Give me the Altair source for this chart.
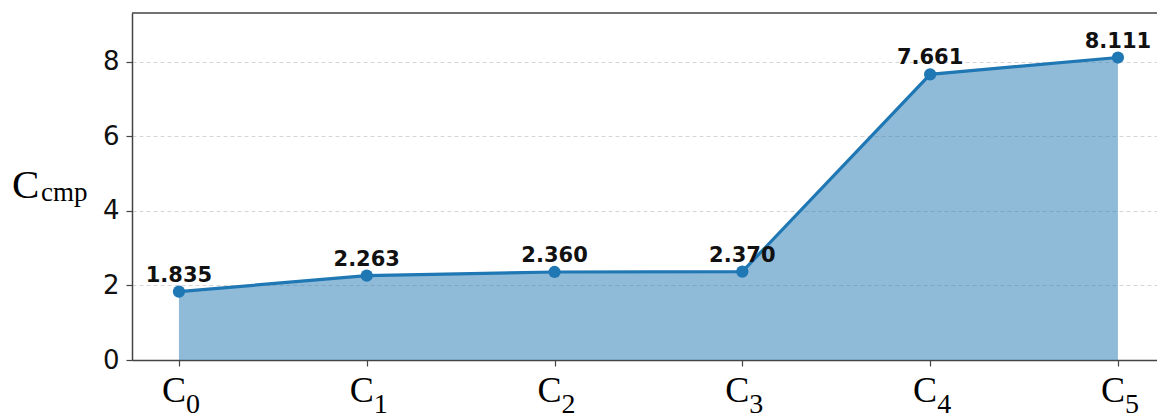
import altair as alt
import pandas as pd

subs = ["0", "1", "2", "3", "4", "5"]
values = [1.835, 2.263, 2.360, 2.370, 7.661, 8.111]
value_labels = ["1.835", "2.263", "2.360", "2.370", "7.661", "8.111"]
y_ticks = [0, 2, 4, 6, 8]

df = pd.DataFrame({
    "idx": list(range(len(subs))),
    "sub": subs,
    "value": values,
    "label": value_labels,
})

W, H = 1025, 347
BLUE = "#1f77b4"

xscale = alt.Scale(domain=[-0.25, 5.208], nice=False, zero=False)
yscale = alt.Scale(domain=[0, 9.305], nice=False, zero=True)

x_enc = alt.X("idx:Q", scale=xscale, axis=alt.Axis(
    values=list(range(6)), labels=False, ticks=True, tickSize=6, tickColor="#444",
    tickWidth=1.2, domainColor="#444", domainWidth=1.5, grid=False, title=None))
y_enc = alt.Y("value:Q", scale=yscale, axis=alt.Axis(
    values=y_ticks, labelFont="DejaVu Sans", labelFontSize=26, labelColor="#111",
    labelPadding=7, tickSize=6, tickColor="#444", tickWidth=1.2,
    domainColor="#444", domainWidth=1.5, grid=True, gridDash=[4, 3],
    gridColor="#d6d6d6", gridWidth=1, title=None))

base = alt.Chart(df)

area = base.mark_area(color=BLUE, opacity=0.5).encode(x=x_enc, y=y_enc)
line = base.mark_line(color=BLUE, strokeWidth=3.2).encode(x="idx:Q", y="value:Q")
pts = base.mark_circle(color=BLUE, size=150, opacity=1).encode(x="idx:Q", y="value:Q")
txt = base.mark_text(font="DejaVu Sans", fontWeight="bold", fontSize=21,
                     baseline="alphabetic", dy=-10, color="#111").encode(
    x="idx:Q", y="value:Q", text="label:N")

xc = base.mark_text(font="Liberation Serif", fontSize=36, align="right",
                    baseline="alphabetic", dx=7, color="black").encode(
    x="idx:Q", y=alt.value(389), text=alt.value("C"))
xs = base.mark_text(font="Liberation Serif", fontSize=28, align="left",
                    baseline="alphabetic", dx=7, color="black").encode(
    x="idx:Q", y=alt.value(400), text="sub:N")

title_df = pd.DataFrame({"main": ["C"], "sub": ["cmp"]})
tmain = alt.Chart(title_df).mark_text(font="Liberation Serif", fontSize=41, align="left",
                                       baseline="alphabetic", color="black").encode(
    x=alt.value(-120), y=alt.value(185), text="main:N")
tsub = alt.Chart(title_df).mark_text(font="Liberation Serif", fontSize=27, align="left",
                                      baseline="alphabetic", color="black").encode(
    x=alt.value(-91), y=alt.value(188), text="sub:N")

topspine = alt.Chart(title_df).mark_rule(color="#444", strokeWidth=1.5).encode(
    x=alt.value(0), x2=alt.value(W), y=alt.value(0))

chart = alt.layer(area, line, pts, txt, xc, xs, tmain, tsub, topspine).properties(
    width=W, height=H,
    autosize=alt.AutoSizeParams(type="none"),
    padding={"left": 124, "top": 5, "right": 0, "bottom": 64},
).configure_view(stroke=None)

chart.save("out.html", embed_options={"renderer": "svg", "actions": False})
